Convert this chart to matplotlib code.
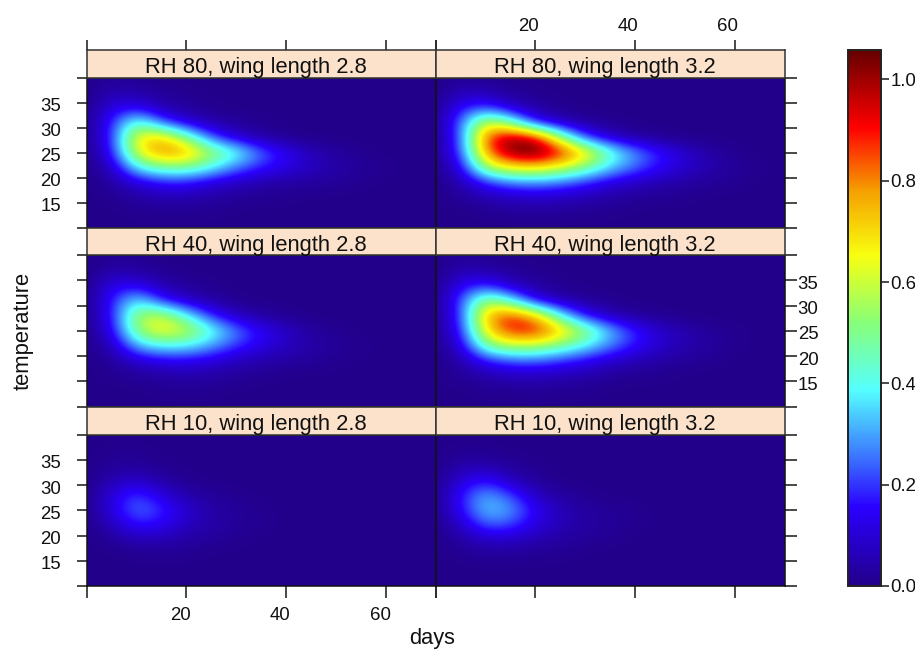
import numpy as np
import matplotlib
matplotlib.use('Agg')
import matplotlib.pyplot as plt
from matplotlib.colors import LinearSegmentedColormap, Normalize
from matplotlib.cm import ScalarMappable
from matplotlib.transforms import ScaledTranslation

plt.rcParams['font.family'] = ['Liberation Sans', 'DejaVu Sans']

days = [0, 5, 10, 15, 20, 25, 30, 35, 40, 45, 50, 55, 60, 65, 70]
# rows run from the top of a panel to the bottom
temps = [40, 37, 34, 31, 28, 25, 22, 19, 16, 13, 10]

rh80_w28 = [
    [0, .02, .01, 0, 0, 0, 0, 0, 0, 0, 0, 0, 0, 0, 0],
    [0, .05, .04, .02, .01, 0, 0, 0, 0, 0, 0, 0, 0, 0, 0],
    [0, .12, .13, .05, .02, .01, 0, 0, 0, 0, 0, 0, 0, 0, 0],
    [0, .18, .46, .22, .10, .04, .02, .01, 0, 0, 0, 0, 0, 0, 0],
    [0, .18, .68, .74, .50, .22, .09, .03, .01, 0, 0, 0, 0, 0, 0],
    [0, .15, .64, .81, .78, .56, .43, .24, .14, .06, .03, .01, 0, 0, 0],
    [0, .07, .38, .48, .49, .39, .25, .17, .12, .07, .04, .02, .01, 0, 0],
    [0, .03, .10, .16, .16, .10, .07, .04, .03, .03, .02, .01, 0, 0, 0],
    [0, .01, .03, .05, .05, .03, .02, .01, .01, 0, 0, 0, 0, 0, 0],
    [0, 0, .01, .01, .01, .01, 0, 0, 0, 0, 0, 0, 0, 0, 0],
    [0, 0, 0, 0, 0, 0, 0, 0, 0, 0, 0, 0, 0, 0, 0],
]
rh80_w32 = [
    [0, .02, .01, 0, 0, 0, 0, 0, 0, 0, 0, 0, 0, 0, 0],
    [0, .06, .05, .02, .01, 0, 0, 0, 0, 0, 0, 0, 0, 0, 0],
    [0, .16, .20, .08, .03, .01, 0, 0, 0, 0, 0, 0, 0, 0, 0],
    [0, .24, .64, .47, .14, .06, .02, .01, 0, 0, 0, 0, 0, 0, 0],
    [0, .22, .86, 1.02, .96, .54, .20, .08, .03, .01, 0, 0, 0, 0, 0],
    [0, .20, .80, 1.04, 1.09, .94, .72, .45, .28, .17, .09, .04, .01, 0, 0],
    [0, .12, .56, .67, .69, .62, .50, .35, .24, .15, .09, .05, .02, .01, 0],
    [0, .05, .17, .25, .27, .24, .18, .11, .07, .05, .03, .02, .01, 0, 0],
    [0, .02, .05, .07, .08, .07, .05, .03, .02, .01, .01, 0, 0, 0, 0],
    [0, 0, .01, .02, .02, .02, .01, .01, 0, 0, 0, 0, 0, 0, 0],
    [0, 0, 0, 0, 0, 0, 0, 0, 0, 0, 0, 0, 0, 0, 0],
]
rh40_w28 = [
    [0, .01, .01, 0, 0, 0, 0, 0, 0, 0, 0, 0, 0, 0, 0],
    [0, .04, .03, .01, 0, 0, 0, 0, 0, 0, 0, 0, 0, 0, 0],
    [0, .13, .13, .05, .02, .01, 0, 0, 0, 0, 0, 0, 0, 0, 0],
    [0, .17, .39, .17, .08, .03, .01, 0, 0, 0, 0, 0, 0, 0, 0],
    [0, .16, .56, .62, .40, .18, .07, .03, .01, 0, 0, 0, 0, 0, 0],
    [0, .12, .53, .68, .61, .43, .26, .15, .08, .03, .01, 0, 0, 0, 0],
    [0, .06, .31, .38, .37, .29, .19, .12, .07, .04, .02, .01, 0, 0, 0],
    [0, .02, .08, .12, .13, .10, .06, .04, .03, .02, .01, 0, 0, 0, 0],
    [0, .01, .02, .03, .04, .03, .02, .01, 0, 0, 0, 0, 0, 0, 0],
    [0, 0, 0, .01, .01, .01, 0, 0, 0, 0, 0, 0, 0, 0, 0],
    [0, 0, 0, 0, 0, 0, 0, 0, 0, 0, 0, 0, 0, 0, 0],
]
rh40_w32 = [
    [0, .02, .01, 0, 0, 0, 0, 0, 0, 0, 0, 0, 0, 0, 0],
    [0, .05, .04, .02, .01, 0, 0, 0, 0, 0, 0, 0, 0, 0, 0],
    [0, .14, .18, .07, .03, .01, 0, 0, 0, 0, 0, 0, 0, 0, 0],
    [0, .21, .57, .40, .12, .05, .02, .01, 0, 0, 0, 0, 0, 0, 0],
    [0, .19, .76, .90, .76, .40, .15, .06, .02, .01, 0, 0, 0, 0, 0],
    [0, .16, .69, .90, .92, .74, .55, .33, .18, .09, .05, .02, .01, 0, 0],
    [0, .10, .48, .57, .56, .48, .38, .26, .16, .09, .05, .03, .01, 0, 0],
    [0, .04, .15, .21, .22, .18, .13, .08, .05, .03, .02, .01, 0, 0, 0],
    [0, .02, .04, .06, .06, .05, .04, .02, .01, .01, 0, 0, 0, 0, 0],
    [0, 0, .01, .01, .02, .01, .01, 0, 0, 0, 0, 0, 0, 0, 0],
    [0, 0, 0, 0, 0, 0, 0, 0, 0, 0, 0, 0, 0, 0, 0],
]
rh10_w28 = [
    [0, 0, 0, 0, 0, 0, 0, 0, 0, 0, 0, 0, 0, 0, 0],
    [0, .01, .01, 0, 0, 0, 0, 0, 0, 0, 0, 0, 0, 0, 0],
    [0, .02, .02, .01, 0, 0, 0, 0, 0, 0, 0, 0, 0, 0, 0],
    [0, .05, .08, .03, .01, 0, 0, 0, 0, 0, 0, 0, 0, 0, 0],
    [0, .11, .21, .11, .04, .02, .01, 0, 0, 0, 0, 0, 0, 0, 0],
    [0, .12, .26, .19, .09, .04, .02, .01, 0, 0, 0, 0, 0, 0, 0],
    [0, .06, .17, .14, .07, .04, .02, .01, 0, 0, 0, 0, 0, 0, 0],
    [0, .02, .05, .05, .03, .02, .01, 0, 0, 0, 0, 0, 0, 0, 0],
    [0, 0, .01, .01, .01, 0, 0, 0, 0, 0, 0, 0, 0, 0, 0],
    [0, 0, 0, 0, 0, 0, 0, 0, 0, 0, 0, 0, 0, 0, 0],
    [0, 0, 0, 0, 0, 0, 0, 0, 0, 0, 0, 0, 0, 0, 0],
]
rh10_w32 = [
    [0, 0, 0, 0, 0, 0, 0, 0, 0, 0, 0, 0, 0, 0, 0],
    [0, .01, .01, 0, 0, 0, 0, 0, 0, 0, 0, 0, 0, 0, 0],
    [0, .04, .04, .02, .01, 0, 0, 0, 0, 0, 0, 0, 0, 0, 0],
    [0, .10, .16, .06, .02, 0, 0, 0, 0, 0, 0, 0, 0, 0, 0],
    [0, .17, .31, .21, .07, .03, .01, 0, 0, 0, 0, 0, 0, 0, 0],
    [0, .15, .35, .30, .14, .06, .03, .02, .01, 0, 0, 0, 0, 0, 0],
    [0, .08, .23, .21, .11, .06, .03, .02, .01, 0, 0, 0, 0, 0, 0],
    [0, .03, .07, .07, .05, .03, .02, .01, 0, 0, 0, 0, 0, 0, 0],
    [0, .01, .02, .02, .01, .01, 0, 0, 0, 0, 0, 0, 0, 0, 0],
    [0, 0, 0, 0, 0, 0, 0, 0, 0, 0, 0, 0, 0, 0, 0],
    [0, 0, 0, 0, 0, 0, 0, 0, 0, 0, 0, 0, 0, 0, 0],
]

rows = [
    ['RH 80, wing length 2.8', 'RH 80, wing length 3.2'],
    ['RH 40, wing length 2.8', 'RH 40, wing length 3.2'],
    ['RH 10, wing length 2.8', 'RH 10, wing length 3.2'],
]
grids = [[rh80_w28, rh80_w32], [rh40_w28, rh40_w32], [rh10_w28, rh10_w32]]
day_ticks = [20, 40, 60]
temp_ticks = [15, 20, 25, 30, 35]
bar_ticks = [0.0, 0.2, 0.4, 0.6, 0.8, 1.0]
z_max = 1.058

W, H = 915, 649
DARK = '#2a2a2a'
TXT = '#111111'
LAB = 13.4

# colour scale
stops = [(0, '#23008a'), (.155, '#2a00ff'), (.25, '#3a70ff'), (.387, '#55ffff'),
         (.52, '#88ff78'), (.653, '#f8ff10'), (.78, '#f5a000'), (.906, '#ff0000'),
         (1.058, '#650000')]
cmap = LinearSegmentedColormap.from_list('key', [(v / z_max, c) for v, c in stops], N=512)
norm = Normalize(0, z_max)


def px_axes(fig, x0, x1, y0, y1):
    # pixel box with y measured from the top of the image
    return fig.add_axes([x0 / W, 1 - y1 / H, (x1 - x0) / W, (y1 - y0) / H])


def shift_labels(labels, fig, dx, dy):
    for lab in labels:
        lab.set_transform(lab.get_transform() + ScaledTranslation(dx / 100, dy / 100, fig.dpi_scale_trans))


def main():
    fig = plt.figure(figsize=(W / 100, H / 100), dpi=100)

    col_x = [(86.7, 435.8), (435.8, 784.6)]
    row_y = [(50, 77.5, 228), (228, 255, 406.7), (406.7, 434.5, 586)]
    step_x = days[1] - days[0]
    step_y = temps[0] - temps[1]
    extent = (days[0] - step_x / 2, days[-1] + step_x / 2,
              temps[-1] - step_y / 2, temps[0] + step_y / 2)

    for r, (top, mid, bot) in enumerate(row_y):
        for c, (x0, x1) in enumerate(col_x):
            ax = px_axes(fig, x0, x1, mid, bot)
            ax.imshow(np.array(grids[r][c]), cmap=cmap, norm=norm, extent=extent,
                      origin='upper', aspect='auto', interpolation='bicubic')
            ax.set_xlim(0, 70)
            ax.set_ylim(10, 40)
            for s in ax.spines.values():
                s.set_linewidth(1.1)
                s.set_color('#111111')

            # y ticks, with labels on alternating sides
            ax.set_yticks([10] + temp_ticks + [40])
            ax.tick_params(axis='y', length=0, left=False, right=False,
                           labelleft=False, labelright=False)
            if c == 0:
                ax.tick_params(axis='y', left=True, length=7.4, width=1.2, color=DARK,
                               labelleft=r != 1, pad=11, labelsize=LAB, labelcolor=TXT)
                ax.set_yticklabels([''] + temp_ticks + [''])
                shift_labels(ax.get_yticklabels(), fig, 0, -2)
            else:
                ax.tick_params(axis='y', right=True, length=8.4, width=1.2, color=DARK,
                               labelright=r == 1, pad=1, labelsize=LAB, labelcolor=TXT)
                ax.set_yticklabels([''] + temp_ticks + [''])
                shift_labels(ax.get_yticklabels(), fig, 0, -2)

            # x ticks below the bottom row
            if r == 2:
                ticks = [0] + day_ticks + ([70] if c == 0 else [])
                ax.set_xticks(ticks)
                ax.set_xticklabels([''] + day_ticks + ([''] if c == 0 else []))
                ax.tick_params(axis='x', length=8.4, width=1.2, color=DARK, pad=6.5,
                               labelsize=LAB, labelcolor=TXT, labelbottom=c == 0)
                shift_labels(ax.get_xticklabels(), fig, -5.7, 0)
            else:
                ax.set_xticks([])

            st = px_axes(fig, x0, x1, top, mid)
            st.set_facecolor('#fce2ca')
            st.set_xlim(0, 70)
            st.set_yticks([])
            for s in st.spines.values():
                s.set_linewidth(1.1)
                s.set_color('#333333')
            # x ticks above the top row
            if r == 0:
                ticks = [0] + day_ticks + ([70] if c == 0 else [])
                st.set_xticks(ticks)
                st.set_xticklabels([''] + day_ticks + ([''] if c == 0 else []))
                st.tick_params(axis='x', bottom=False, labelbottom=False, top=True,
                               labeltop=c == 1, length=7.4, width=1.2, color=DARK, pad=3.6,
                               labelsize=LAB, labelcolor=TXT)
                shift_labels(st.get_xticklabels(), fig, -7, 0)
            else:
                st.set_xticks([])
            st.text(0.485, 0.155, rows[r][c], transform=st.transAxes, ha='center',
                    va='baseline', fontsize=15.85, color=TXT, clip_on=False)

    cax = px_axes(fig, 848, 880.7, 50, 586)
    cb = fig.colorbar(ScalarMappable(norm=norm, cmap=cmap), cax=cax, ticks=bar_ticks)
    cb.outline.set_linewidth(1.4)
    cb.outline.set_edgecolor('#222222')
    cb.ax.tick_params(length=6, width=1.2, color=DARK, pad=1, labelsize=LAB, labelcolor=TXT)

    fig.text(431.7 / W, 1 - 644 / H, 'days', ha='center', va='baseline', fontsize=15.7, color=TXT)
    fig.text(23 / W, 1 - 331 / H, 'temperature', rotation=90, ha='center', va='center',
             rotation_mode='anchor', fontsize=15.8, color=TXT)

    fig.savefig('out.png', dpi=100)


if __name__ == "__main__":
    main()
